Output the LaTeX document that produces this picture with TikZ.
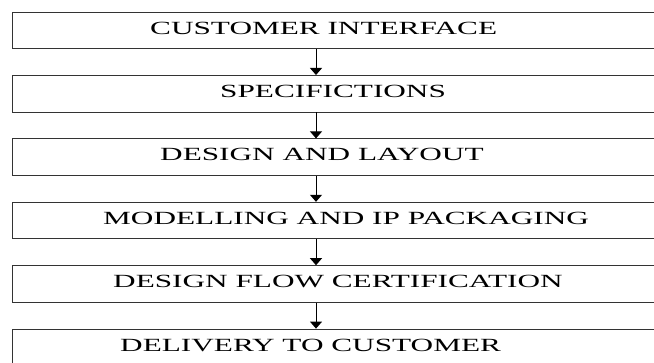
\documentclass[tikz,border=0pt]{standalone}
\usepackage{fontspec}
\setmainfont[FakeStretch=1.68]{Liberation Serif}
\usetikzlibrary{calc,arrows.meta}

\begin{document}
\begin{tikzpicture}[x=1pt,y=-1pt]
    \tikzstyle{stage}=[draw=black!80, line width=0.9pt, rectangle, minimum width=680pt, minimum height=36.6pt, anchor=north west, inner sep=0pt];
    \tikzstyle{caption}=[anchor=base west, inner sep=0pt, font=\fontsize{18.6}{20}\selectfont];
    \tikzstyle{flow}=[draw=black, line width=0.9pt, -{Triangle[width=12pt,length=7pt]}];

    % page frame, boxes run off the right edge
    \useasboundingbox (0,0) rectangle (654,363);
    \clip (0,0) rectangle (654,363);

    % the six stages
    \node[stage] (b1) at (12,11.7) {};
    \node[stage] (b2) at (12,75) {};
    \node[stage] (b3) at (12,138.4) {};
    \node[stage] (b4) at (12,201.8) {};
    \node[stage] (b5) at (12,265.2) {};
    \node[stage] (b6) at (12,328.6) {};

    % labels, each set a little off centre
    \node[caption] (t1) at ($(b1.north west)+(138,22.6)$) {CUSTOMER INTERFACE};
    \node[caption] (t2) at ($(b2.north west)+(208,22.6)$) {SPECIFICTIONS};
    \node[caption] (t3) at ($(b3.north west)+(148,22.6)$) {DESIGN AND LAYOUT};
    \node[caption] (t4) at ($(b4.north west)+(91,22.6)$) {MODELLING AND IP PACKAGING};
    \node[caption] (t5) at ($(b5.north west)+(101,22.6)$) {DESIGN FLOW CERTIFICATION};
    \node[caption] (t6) at ($(b6.north west)+(108,22.6)$) {DELIVERY TO CUSTOMER};

    % arrows between the stages
    \foreach \a/\b in {b1/b2,b2/b3,b3/b4,b4/b5,b5/b6}
        \draw[flow] ($(\a.south west)+(304,0)$) -- ($(\b.north west)+(304,0)$);
\end{tikzpicture}
\end{document}
